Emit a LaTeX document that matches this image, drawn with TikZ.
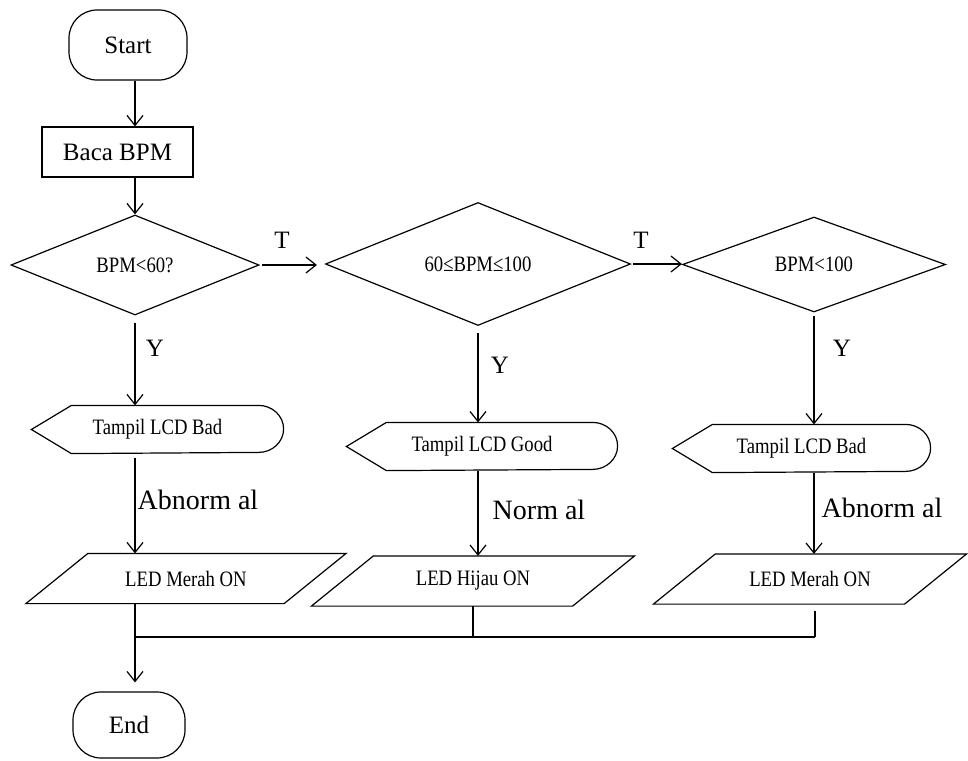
\documentclass[tikz,border=0pt]{standalone}
\usepackage{fontspec}
\setmainfont{Liberation Serif}
\newfontfamily\condfont[FakeStretch=0.85]{Liberation Serif}
\usetikzlibrary{shapes.geometric,arrows.meta,calc}
\newcommand\dispshape[1]{\draw (#1.west) -- ([xshift=40pt]#1.north west) -- ([xshift=-25pt]#1.north east) arc[start angle=90,end angle=-90,x radius=25pt,y radius=23.5pt] -- ([xshift=40pt]#1.south west) -- cycle;}
\newcommand\ioshape[1]{\draw ([xshift=31pt]#1.north west) -- ([xshift=31pt]#1.north east) -- ([xshift=-31pt]#1.south east) -- ([xshift=-31pt]#1.south west) -- cycle;}
\begin{document}
\begin{tikzpicture}[x=1pt,y=-1pt, line width=1.2pt,
 arr/.style={-{Straight Barb[length=10pt,width=16pt,line width=1.2pt]}},
 term/.style={draw, rounded corners=28pt, inner sep=0pt, font=\fontsize{25}{28}\selectfont},
 proc/.style={draw, inner sep=0pt, font=\fontsize{25}{28}\selectfont},
 dec/.style={draw, diamond, inner sep=0pt, font=\condfont\fontsize{22}{24}\selectfont},
 disp/.style={inner sep=0pt, minimum height=47pt, font=\condfont\fontsize{22}{24}\selectfont},
 io/.style={inner sep=0pt, minimum height=49pt, font=\condfont\fontsize{22}{24}\selectfont},
 lbl/.style={font=\fontsize{25}{28}\selectfont, inner sep=0pt},
 big/.style={font=\fontsize{28}{30}\selectfont, inner sep=0pt}]
\useasboundingbox (0,0) rectangle (968,760);
\coordinate (c1) at (135,0);
\coordinate (j1) at (135,637);
\coordinate (j3) at (815,637);

\node[term, minimum width=118pt, minimum height=70pt] (start) at (128,45) {Start};
\node[proc, minimum width=151pt, minimum height=50pt] (baca) at (117.5,152) {Baca BPM};
\node[dec, minimum width=248pt, minimum height=100pt] (d1) at (135,265) {BPM<60?};
\node[dec, minimum width=305pt, minimum height=123pt] (d2) at (478,264) {60≤BPM≤100};
\node[dec, minimum width=263pt, minimum height=95pt] (d3) at (814,264.5) {BPM<100};

\node[disp, minimum width=251pt] (t1) at (157.5,429.5) {Tampil LCD Bad};
\node[disp, minimum width=270pt] (t2) at (482,446.5) {Tampil LCD Good};
\node[disp, minimum width=257pt] (t3) at (801.5,448.5) {Tampil LCD Bad};
\dispshape{t1}
\dispshape{t2}
\dispshape{t3}

\node[io, minimum width=257pt] (l1) at (186,578.5) {LED Merah ON};
\node[io, minimum width=260pt] (l2) at (473,581) {LED Hijau ON};
\node[io, minimum width=250pt] (l3) at (810,579) {LED Merah ON};
\ioshape{l1}
\ioshape{l2}
\ioshape{l3}

\node[term, minimum width=112pt, minimum height=66pt] (end) at (129,725) {End};

% labels
\node[lbl] (tl1) at (282,240) {T};
\node[lbl] (tl2) at (641,240) {T};
\node[lbl] (y1) at (155,348) {Y};
\node[lbl] (y2) at (500,365) {Y};
\node[lbl] (y3) at (842,348) {Y};
\node[big] (ab1) at (198,500) {Abnorm al};
\node[big] (no2) at (539,510) {Norm al};
\node[big] (ab3) at (882,508) {Abnorm al};

% connectors
\draw[arr] (start.south -| c1) -- (baca.north -| c1);
\draw[arr] (baca.south -| d1.north) -- (d1.north);
\draw[arr, shorten <=2pt, shorten >=8pt] (d1.east) -- (d1.east -| d2.west);
\draw[arr, shorten <=2pt] (d2.east) -- (d2.east -| d3.west);
\draw[arr, shorten <=7pt] (d1.south) -- (t1.north -| d1.south);
\draw[arr, shorten <=7pt] (d2.south) -- (t2.north -| d2.south);
\draw[arr, shorten <=3pt] (d3.south) -- (t3.north -| d3.south);
\draw[arr, shorten <=4pt] (t1.south -| c1) -- (l1.north -| c1);
\draw[arr] (t2.south -| d2.south) -- (l2.north -| d2.south);
\draw[arr] (t3.south -| d3.south) -- (l3.north -| d3.south);
\draw (l2.south) -- (l2.south |- j1);
\draw[shorten <=7pt] (l3.south -| j3) -- (j3);
\draw (j1) -- (j3);
\draw[arr, shorten >=9pt] (l1.south -| c1) -- (end.north -| c1);
\end{tikzpicture}
\end{document}
